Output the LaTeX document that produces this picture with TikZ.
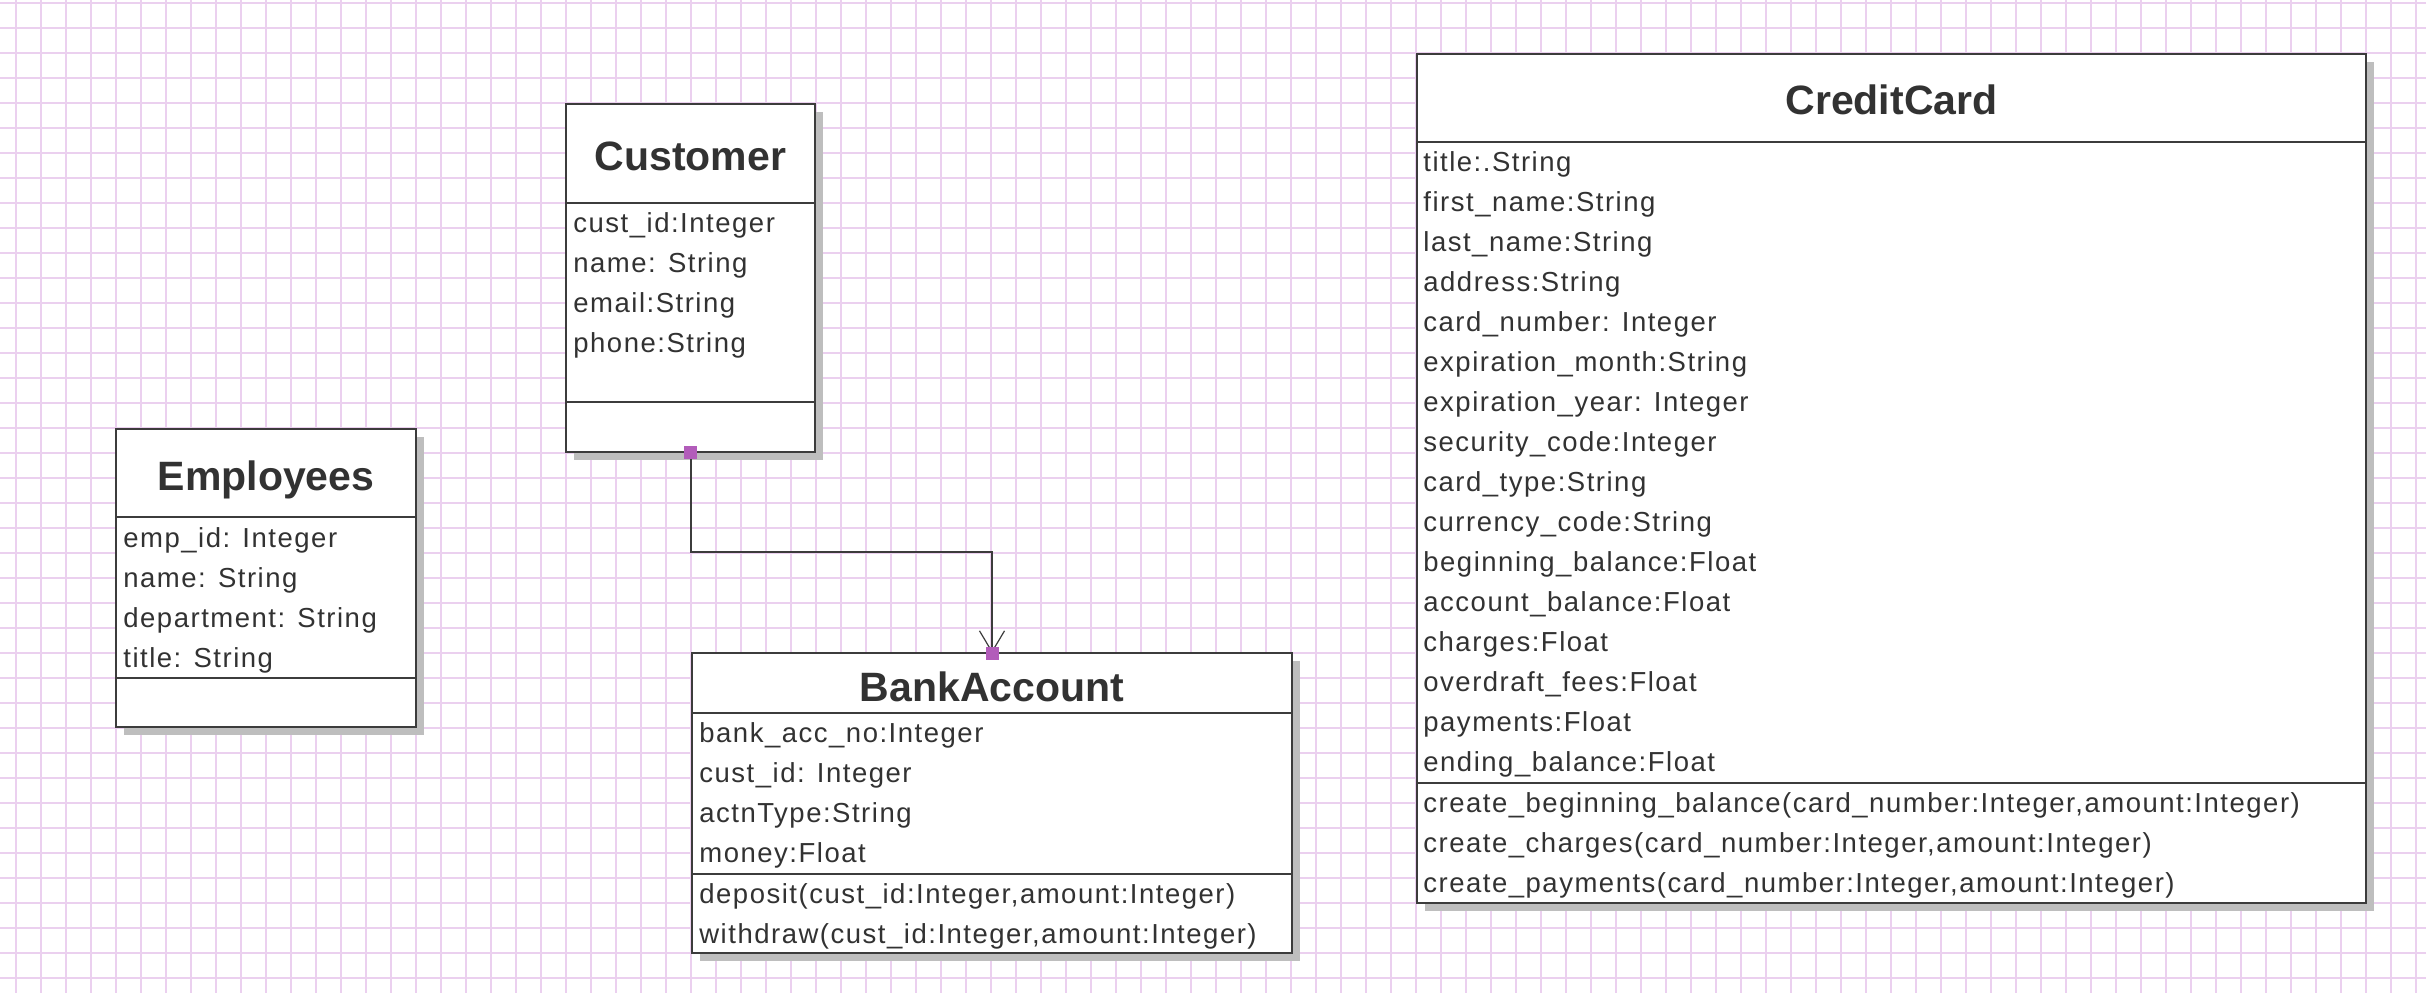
\documentclass[tikz,border=0pt]{standalone}
\usepackage{fontspec}
\setmainfont{Liberation Sans}
\newfontfamily\attrfont[LetterSpace=5.5]{Liberation Sans}
\usetikzlibrary{arrows.meta,shadows}
\definecolor{gridc}{RGB}{235,208,239}
\definecolor{boxline}{RGB}{60,60,60}
\definecolor{shadowc}{RGB}{190,190,190}
\definecolor{handlec}{RGB}{178,92,186}
\definecolor{textc}{RGB}{50,50,50}
\tikzset{
  classbox/.style={draw=boxline, line width=1pt, fill=white, rectangle, inner sep=0pt, outer sep=0pt, anchor=north west,
    drop shadow={shadow xshift=4pt, shadow yshift=-4pt, fill=shadowc, opacity=1}},
  sepline/.style={draw=boxline, line width=1pt},
  titletext/.style={anchor=base, inner sep=0pt, text=textc, font=\fontsize{20.5pt}{24pt}\selectfont\bfseries},
  attrtext/.style={anchor=base west, inner sep=0pt, text=textc, font=\attrfont\fontsize{13.75pt}{16pt}\selectfont},
  gridline/.style={draw=gridc, line width=1pt},
  conn/.style={draw=boxline, line width=1pt},
  handlebox/.style={rectangle, fill=handlec, minimum size=6.5pt, inner sep=0pt, outer sep=0pt}
}
\begin{document}
\begin{tikzpicture}[x=0.5pt,y=-0.5pt]
\useasboundingbox (0,0) rectangle (2426,993);
\fill[white] (0,0) rectangle (2426,993);
% grid
\foreach \i in {0,...,96} { \draw[gridline] ({16+25*\i},0) -- ({16+25*\i},993); }
\foreach \j in {0,...,39} { \draw[gridline] (0,{3+25*\j}) -- (2426,{3+25*\j}); }

% Customer
\node[classbox, minimum width=124.5pt, minimum height=174pt] (cust) at (566,104) {};
\draw[sepline] (566,203) -- (815,203);
\draw[sepline] (566,402) -- (815,402);
\node[titletext] (custT) at (690.5,170) {Customer};
\node[attrtext] (c1) at (573,232.5) {cust\_id:Integer};
\node[attrtext] (c2) at (573,272.5) {name: String};
\node[attrtext] (c3) at (573,312.5) {email:String};
\node[attrtext] (c4) at (573,352.5) {phone:String};

% Employees
\node[classbox, minimum width=150pt, minimum height=149pt] (emp) at (116,429) {};
\draw[sepline] (116,517) -- (416,517);
\draw[sepline] (116,678) -- (416,678);
\node[titletext] (empT) at (266,490.5) {Employees};
\node[attrtext] (e1) at (123,547.5) {emp\_id: Integer};
\node[attrtext] (e2) at (123,587.5) {name: String};
\node[attrtext] (e3) at (123,627.5) {department: String};
\node[attrtext] (e4) at (123,667.5) {title: String};

% BankAccount
\node[classbox, minimum width=300pt, minimum height=150pt] (ba) at (692,653) {};
\draw[sepline] (692,713) -- (1292,713);
\draw[sepline] (692,874) -- (1292,874);
\node[titletext] (baT) at (992,701.5) {BankAccount};
\node[attrtext] (b1) at (699,742.5) {bank\_acc\_no:Integer};
\node[attrtext] (b2) at (699,782.5) {cust\_id: Integer};
\node[attrtext] (b3) at (699,822.5) {actnType:String};
\node[attrtext] (b4) at (699,862.5) {money:Float};
\node[attrtext] (b5) at (699,903.5) {deposit(cust\_id:Integer,amount:Integer)};
\node[attrtext] (b6) at (699,943.5) {withdraw(cust\_id:Integer,amount:Integer)};

% CreditCard
\node[classbox, minimum width=474.5pt, minimum height=424.5pt] (cc) at (1417,54) {};
\draw[sepline] (1417,142) -- (2366,142);
\draw[sepline] (1417,783) -- (2366,783);
\node[titletext] (ccT) at (1891.5,114.5) {CreditCard};
\foreach \t [count=\k from 0] in {title:.String, first\_name:String, last\_name:String, address:String,
  card\_number: Integer, expiration\_month:String, expiration\_year: Integer, security\_code:Integer,
  card\_type:String, currency\_code:String, beginning\_balance:Float, account\_balance:Float,
  charges:Float, overdraft\_fees:Float, payments:Float, ending\_balance:Float}
  { \node[attrtext] (ca\k) at (1423,{171.5+40*\k}) {\t}; }
\node[attrtext] (cm1) at (1423,812.5) {create\_beginning\_balance(card\_number:Integer,amount:Integer)};
\node[attrtext] (cm2) at (1423,852.5) {create\_charges(card\_number:Integer,amount:Integer)};
\node[attrtext] (cm3) at (1423,892.5) {create\_payments(card\_number:Integer,amount:Integer)};

% association Customer -> BankAccount
\draw[conn, -{Straight Barb[length=10.5pt, width=12.5pt, line width=0.6pt]}] (cust.south) -- ++(0,100) -| (ba.north);
\node[handlebox] (h1) at (cust.south) {};
\node[handlebox] (h2) at (ba.north) {};
\end{tikzpicture}
\end{document}
